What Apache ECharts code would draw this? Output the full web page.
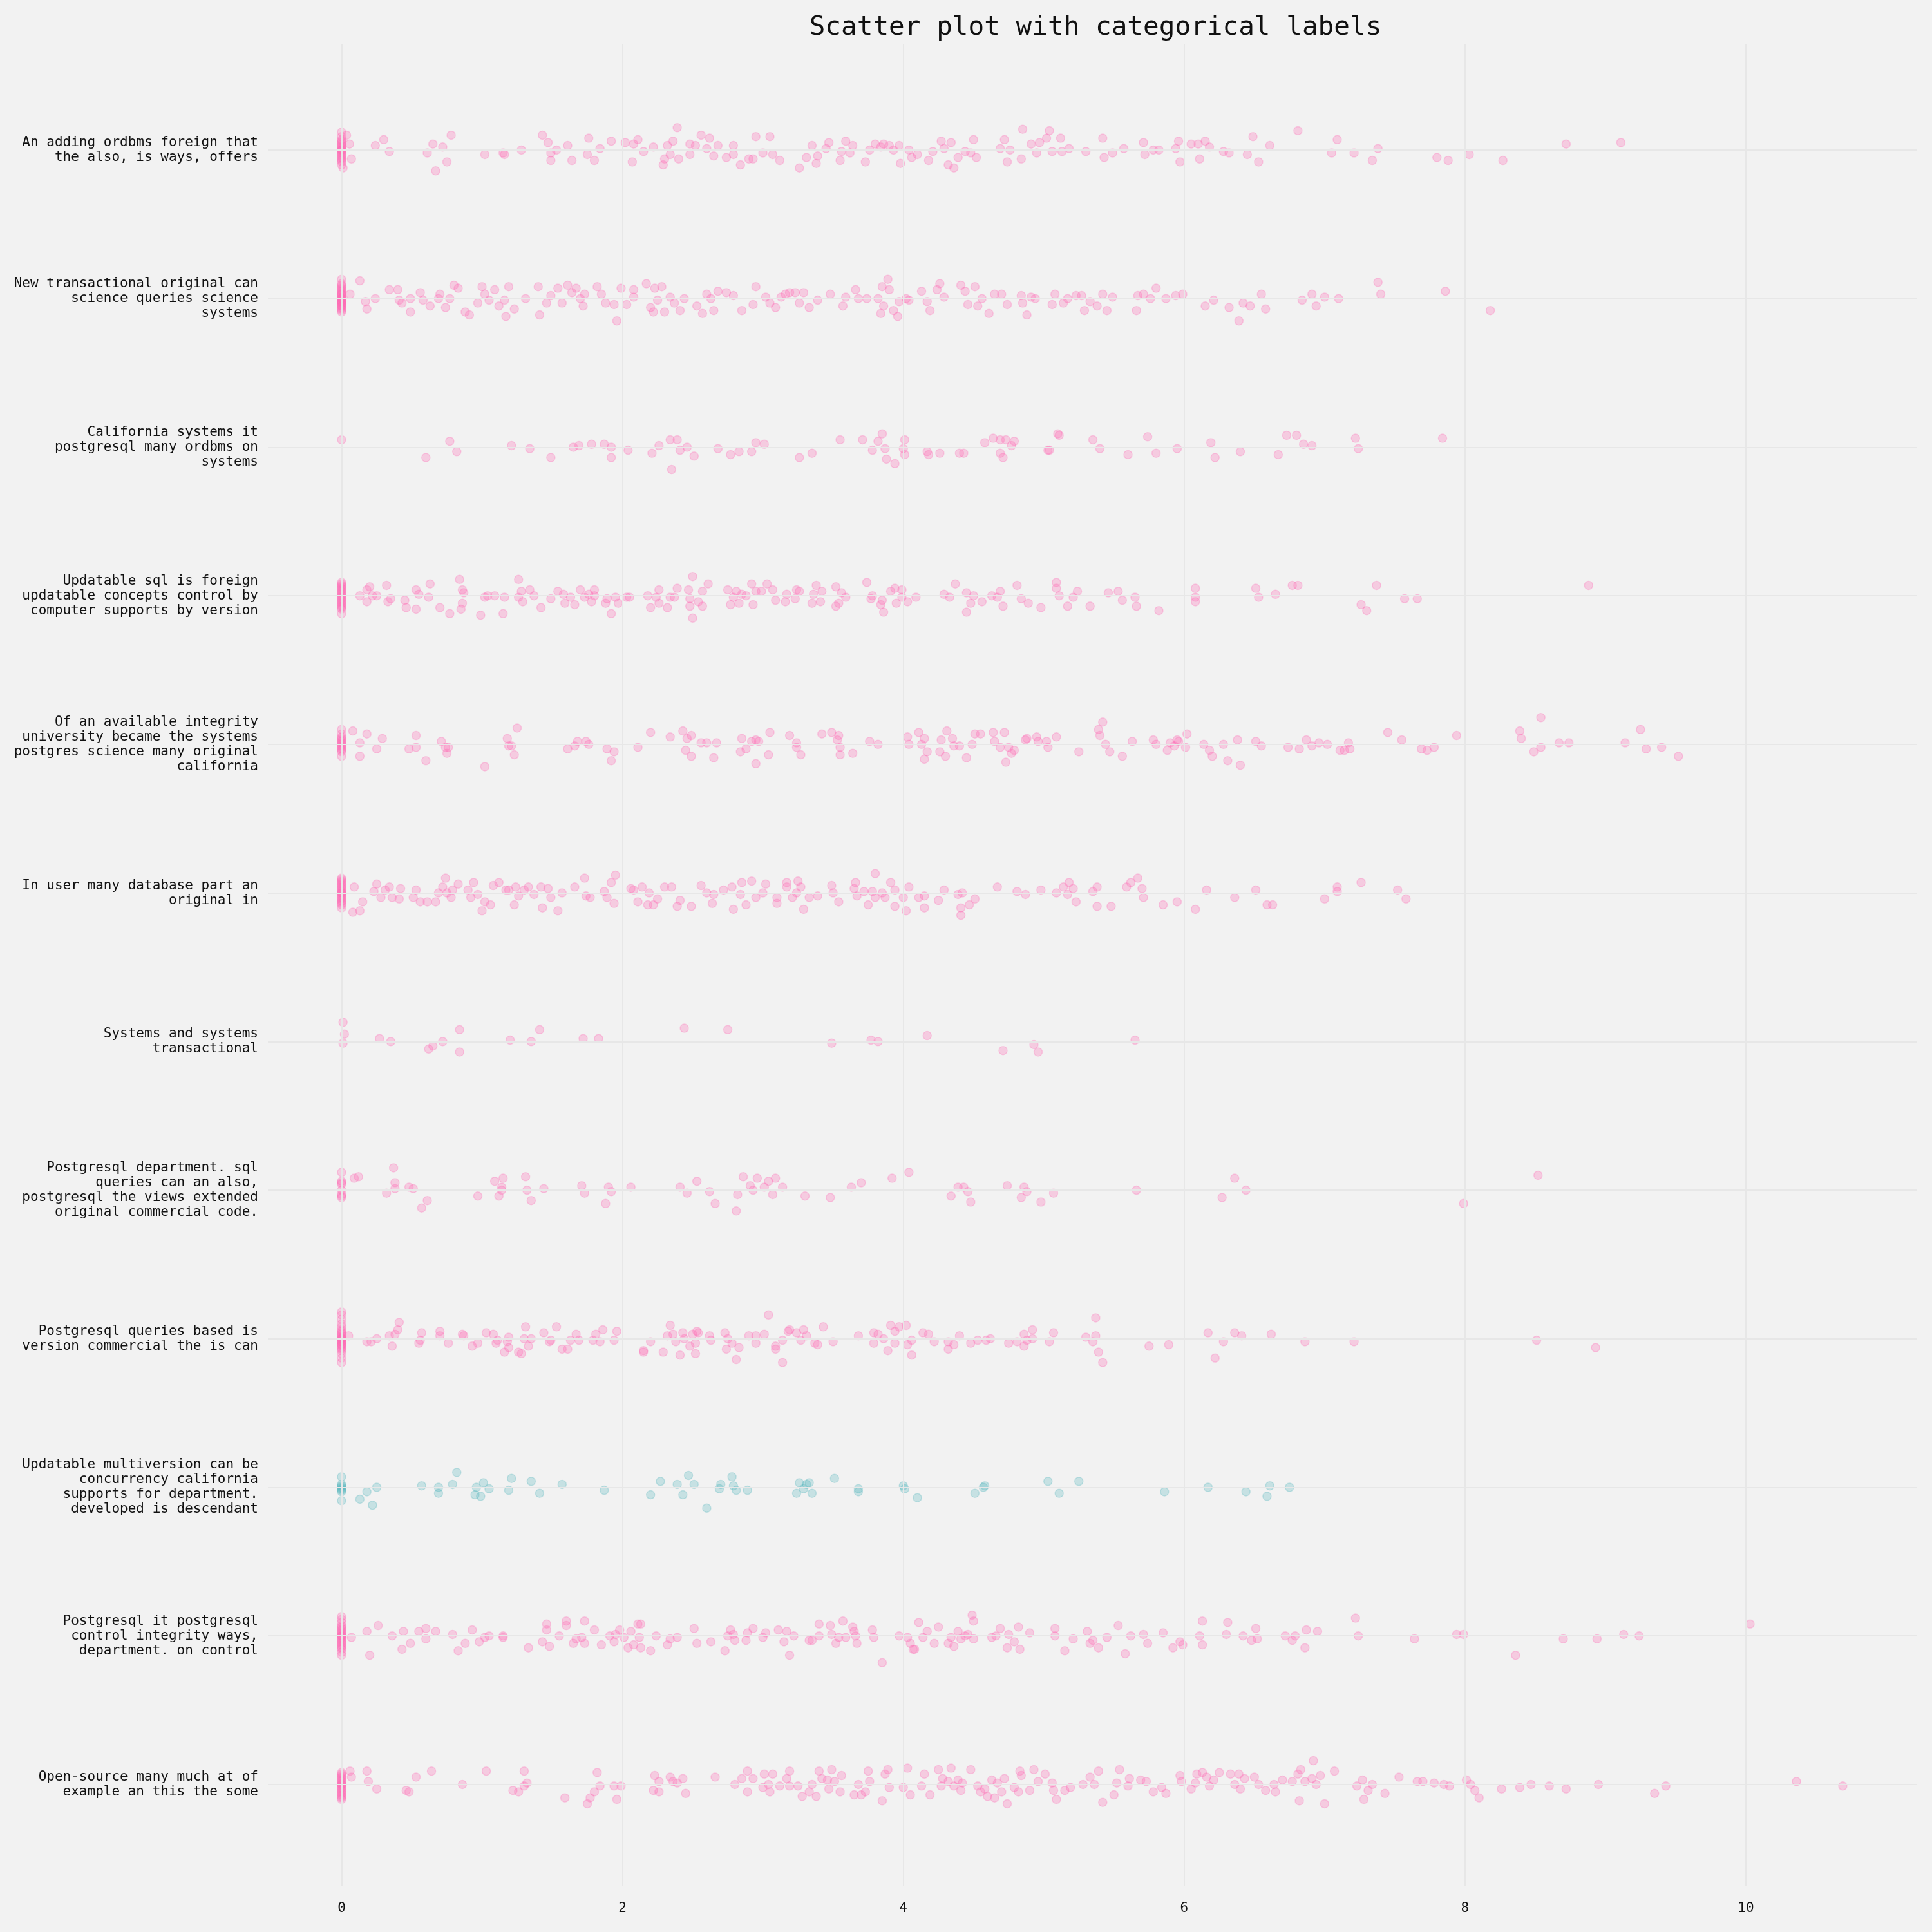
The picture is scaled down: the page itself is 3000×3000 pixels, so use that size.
<!DOCTYPE html>
<html>
<head>
<meta charset="utf-8">
<script src="https://cdn.jsdelivr.net/npm/echarts@6/dist/echarts.min.js"></script>
<style>
html,body{margin:0;padding:0;background:#f2f2f2;}
#chart{width:3000px;height:3000px;}
</style>
</head>
<body>
<div id="chart"></div>
<script>
const titleText = 'Scatter plot with categorical labels';
const categories = [
  'An adding ordbms foreign that\nthe also, is ways, offers',
  'New transactional original can\nscience queries science\nsystems',
  'California systems it\npostgresql many ordbms on\nsystems',
  'Updatable sql is foreign\nupdatable concepts control by\ncomputer supports by version',
  'Of an available integrity\nuniversity became the systems\npostgres science many original\ncalifornia',
  'In user many database part an\noriginal in',
  'Systems and systems\ntransactional',
  'Postgresql department. sql\nqueries can an also,\npostgresql the views extended\noriginal commercial code.',
  'Postgresql queries based is\nversion commercial the is can',
  'Updatable multiversion can be\nconcurrency california\nsupports for department.\ndeveloped is descendant',
  'Postgresql it postgresql\ncontrol integrity ways,\ndepartment. on control',
  'Open-source many much at of\nexample an this the some'
];
const xTicks = [0, 2, 4, 6, 8, 10];
const highlighted = [9];

// each point: [value, jitter offset within its category row]
const pts1 = [[0,-0.12],[0,-0.09],[0,-0.07],[0,-0.05],[0,-0.03],[0,-0.01],[0,0],[0,0.02],[0,0.04],[0,0.06],[0,0.08],[0,0.1],
[0,-0.06],[0,-0.04],[0,-0.02],[0,0.01],[0,0.03],[0,0.05],[0,0.07],[0,0],
[0.035,-0.1],[0.056,-0.04],[0.07,0.06],[0.01,0.12],
[0.24,-0.03],[0.30,-0.07],[0.34,0.01],[0.61,0.02],[0.65,-0.04],[0.67,0.14],[0.72,-0.02],[0.75,0.08],[0.78,-0.10],
[1.02,0.03],[1.15,0.02],[1.16,0.03],[1.28,0],[1.43,-0.10],[1.47,-0.05],[1.49,0.07],[1.49,0.02],[1.53,0],[1.61,-0.03],[1.64,0.07],[1.75,0.03],[1.76,-0.08],[1.80,0.07],[1.84,-0.01],[1.92,-0.06],
[2.02,-0.05],[2.07,0.08],[2.08,-0.04],[2.11,-0.07],[2.15,0.01],[2.22,-0.02],[2.29,0.10],[2.30,0.06],[2.32,-0.03],[2.34,0.03],[2.36,-0.06],[2.39,-0.15],[2.40,0.06],[2.48,0.03],[2.48,-0.04],[2.52,-0.03],[2.56,-0.10],[2.60,-0.01],[2.62,-0.08],[2.65,0.04],[2.68,-0.03],[2.74,0.05],[2.79,-0.03],[2.79,0.03],[2.84,0.10],[2.90,0.06],[2.93,0.06],[2.95,-0.09],
[3.00,0.02],[3.05,-0.09],[3.07,0.03],[3.12,0.07],[3.26,0.12],[3.31,0.05],[3.35,-0.03],[3.38,0.09],[3.39,0.04],[3.45,-0.01],[3.47,-0.05],[3.55,0.07],[3.56,0.01],[3.59,-0.06],[3.62,0.02],[3.64,-0.03],[3.73,0.08],[3.76,0],[3.80,-0.04],[3.84,-0.02],[3.86,-0.04],[3.90,-0.03],[3.93,0],[3.97,-0.03],[3.98,0.09],
[4.04,0],[4.06,0.05],[4.10,0.03],[4.18,0.07],[4.21,0.01],[4.27,-0.06],[4.29,-0.01],[4.32,0.10],[4.34,-0.05],[4.36,0.12],[4.39,0.05],[4.44,0.01],[4.48,0.02],[4.50,-0.07],[4.52,0.05],[4.69,-0.01],[4.72,-0.07],[4.74,0.08],[4.76,0],[4.84,0.06],[4.85,-0.14],[4.91,-0.04],[4.95,0.02],[4.97,-0.05],
[5.02,-0.08],[5.04,-0.13],[5.06,0.01],[5.12,-0.08],[5.13,0.01],[5.18,-0.01],[5.30,0.01],[5.42,-0.08],[5.43,0.05],[5.49,0.02],[5.57,-0.01],[5.71,-0.05],[5.72,0.03],[5.78,0],[5.82,0],[5.94,-0.01],[5.96,-0.06],[5.97,0.08],
[6.05,-0.04],[6.10,-0.04],[6.11,0.06],[6.15,-0.06],[6.18,-0.02],[6.28,0.01],[6.32,0.02],[6.45,0.03],[6.49,-0.09],[6.53,0.08],[6.61,-0.03],[6.81,-0.13],
[7.05,0.02],[7.09,-0.07],[7.21,0.02],[7.34,0.07],[7.38,-0.01],[7.80,0.05],[7.88,0.07],[8.03,0.03],[8.27,0.07],[8.72,-0.04],[9.11,-0.05]];

const pts2 = [[0,-0.13],[0,-0.10],[0,-0.08],[0,-0.06],[0,-0.05],[0,-0.03],[0,-0.02],[0,0],[0,0.01],[0,0.02],[0,0.03],[0,0.05],[0,0.06],[0,0.07],[0,0.08],[0,0.09],
[0,-0.07],[0,-0.04],[0,-0.01],[0,0],[0,0.02],[0,0.04],[0,0.05],[0,-0.09],[0,0.03],[0,-0.03],
[0.13,-0.12],[0.06,-0.03],[0.17,0.02],[0.18,0.07],[0.24,0],[0.34,-0.06],[0.40,-0.06],[0.41,0.01],[0.43,0.03],[0.49,0.09],[0.49,0],[0.56,-0.04],[0.58,0.01],[0.63,0.05],[0.69,0],[0.70,-0.03],[0.74,0.06],[0.77,0],[0.80,-0.09],[0.83,-0.07],[0.88,0.09],[0.91,0.11],[0.97,0.03],
[1.00,-0.08],[1.02,-0.03],[1.05,0.01],[1.09,-0.06],[1.12,0.05],[1.16,0.01],[1.17,0.12],[1.19,-0.08],[1.23,0.07],[1.31,0],[1.40,-0.08],[1.41,0.11],[1.46,0.03],[1.49,-0.02],[1.54,-0.07],[1.57,0.03],[1.61,-0.09],[1.64,-0.04],[1.67,-0.07],[1.70,0],[1.72,0.05],[1.73,-0.03],[1.82,-0.08],[1.85,-0.03],[1.88,0.03],[1.94,0.04],[1.96,0.15],[1.99,-0.07],
[2.03,0.04],[2.08,-0.06],[2.08,-0.01],[2.17,-0.10],[2.20,0.06],[2.22,0.09],[2.23,-0.07],[2.25,0.01],[2.28,-0.08],[2.30,0.09],[2.34,-0.01],[2.37,0.03],[2.41,0.08],[2.44,0],[2.53,0.05],[2.57,0.10],[2.60,-0.03],[2.63,0],[2.65,0.08],[2.68,-0.05],[2.74,-0.04],[2.79,-0.02],[2.85,0.08],[2.93,0.04],[2.95,-0.08],
[3.02,-0.01],[3.05,0.03],[3.09,0.06],[3.13,-0.01],[3.16,-0.03],[3.19,-0.04],[3.23,-0.04],[3.26,0.03],[3.29,-0.04],[3.33,0.06],[3.39,0.01],[3.48,-0.03],[3.57,0.05],[3.59,-0.01],[3.66,-0.06],[3.68,0],[3.74,0],[3.82,0],[3.84,0.10],[3.85,-0.08],[3.86,0.05],[3.89,-0.13],[3.90,-0.06],[3.93,0.08],[3.96,0.12],[3.97,0.02],
[4.02,0],[4.04,0.01],[4.13,-0.05],[4.17,0.02],[4.19,0.08],[4.24,-0.06],[4.26,-0.10],[4.29,-0.01],[4.41,-0.09],[4.44,-0.05],[4.46,0.04],[4.51,-0.08],[4.53,0.05],[4.56,0],[4.61,0.10],[4.65,-0.03],[4.70,-0.03],[4.74,0.04],[4.84,-0.02],[4.85,0.03],[4.88,0.11],[4.91,-0.01],[4.94,0],
[5.06,0.04],[5.08,-0.03],[5.14,0.03],[5.17,0],[5.23,-0.02],[5.27,-0.02],[5.29,0.08],[5.33,0.02],[5.38,0.05],[5.42,-0.03],[5.45,0.08],[5.49,-0.01],[5.66,0.08],[5.67,-0.02],[5.71,-0.03],[5.76,0],[5.80,-0.07],[5.87,0],[5.94,-0.02],[5.99,-0.03],
[6.15,0.05],[6.21,0.01],[6.32,0.06],[6.39,0.15],[6.42,0.03],[6.47,0.05],[6.55,-0.03],[6.58,0.07],[6.84,0.01],[6.91,-0.03],[6.94,0.05],[7.00,-0.01],[7.10,0],[7.38,-0.11],[7.40,-0.03],[7.86,-0.05],[8.18,0.08]];

const pts3 = [[0,-0.05],[0.60,0.07],[0.77,-0.04],[0.82,0.03],[1.21,-0.01],[1.34,0.01],[1.49,0.07],[1.65,0],[1.69,-0.01],[1.78,-0.02],[1.87,-0.02],[1.92,0],[1.92,0.07],
[2.04,0.02],[2.21,0.04],[2.26,-0.01],[2.34,-0.05],[2.35,0.15],[2.39,-0.05],[2.41,0.02],[2.46,0],[2.51,0.06],[2.68,0.01],[2.77,0.05],[2.83,0.03],[2.92,0.03],[2.95,-0.03],
[3.01,-0.02],[3.26,0.07],[3.35,0.04],[3.55,-0.05],[3.71,-0.05],[3.78,0.02],[3.82,-0.04],[3.85,-0.09],[3.87,0.01],[3.88,0.08],[3.94,0.11],
[4.00,0.01],[4.01,-0.05],[4.01,0.05],[4.17,0.03],[4.18,0.05],[4.26,0.04],[4.40,0.04],[4.43,0.04],[4.58,-0.03],[4.64,-0.06],[4.69,0.04],[4.69,-0.05],[4.71,0.07],[4.73,-0.05],[4.77,-0.01],[4.79,-0.04],
[5.03,0.02],[5.04,0.02],[5.10,-0.09],[5.11,-0.08],[5.35,-0.05],[5.40,0.01],[5.60,0.05],[5.74,-0.07],[5.80,0.04],[5.95,0.01],
[6.19,-0.03],[6.22,0.07],[6.40,0.03],[6.67,0.05],[6.73,-0.08],[6.80,-0.08],[6.85,-0.02],[6.91,-0.01],[7.22,-0.06],[7.24,0.01],[7.84,-0.06]];

const pts4 = [[0,-0.09],[0,-0.07],[0,-0.05],[0,-0.04],[0,-0.02],[0,-0.01],[0,0.01],[0,0.02],[0,0.04],[0,0.05],[0,0.07],[0,0.09],[0,0.12],
[0,-0.06],[0,-0.03],[0,0],[0,0.03],[0,0.06],[0,-0.08],[0,0.08],
[0.13,0],[0.18,-0.04],[0.18,0.04],[0.20,-0.06],[0.22,0],[0.25,0],[0.32,-0.07],[0.33,0.04],[0.35,0.02],[0.45,0.03],[0.46,0.08],[0.53,-0.04],[0.53,0.09],[0.55,-0.01],[0.62,0.01],[0.63,-0.08],[0.70,0.08],[0.77,0.12],[0.84,-0.11],[0.86,-0.04],[0.86,0.05],[0.87,-0.02],[0.85,0.09],[0.99,0.13],
[1.02,0.01],[1.04,0],[1.09,0],[1.15,0.12],[1.16,0.01],[1.26,-0.11],[1.26,0.01],[1.28,-0.03],[1.29,0.04],[1.34,-0.04],[1.37,0],[1.42,0.08],[1.49,0.02],[1.54,-0.03],[1.58,-0.01],[1.59,0.05],[1.63,0.01],[1.66,0.06],[1.70,-0.04],[1.73,0.01],[1.76,-0.01],[1.78,0.04],[1.80,-0.04],[1.80,0],[1.88,0.05],[1.89,0.02],[1.92,0.12],[1.95,0.01],[1.97,0.05],
[2.03,0.01],[2.05,0.01],[2.18,0],[2.20,0.08],[2.24,0.01],[2.26,-0.04],[2.26,0.05],[2.32,0.08],[2.34,0.01],[2.37,0.01],[2.39,-0.05],[2.47,-0.04],[2.48,0.02],[2.48,0.07],[2.50,-0.13],[2.50,0.15],[2.54,0.04],[2.57,-0.03],[2.57,0.07],[2.61,-0.08],[2.75,-0.04],[2.77,0.06],[2.79,0.01],[2.81,-0.03],[2.83,0.05],[2.85,-0.01],[2.88,0],[2.92,-0.08],[2.93,0.06],[2.95,-0.03],[2.99,-0.03],
[3.03,-0.08],[3.07,-0.04],[3.09,0.03],[3.16,0.04],[3.17,-0.01],[3.23,0.02],[3.24,-0.04],[3.26,-0.03],[3.35,0.05],[3.36,-0.01],[3.38,-0.07],[3.41,0.04],[3.42,-0.03],[3.52,0.07],[3.52,-0.06],[3.54,0.05],[3.56,-0.02],[3.59,0.01],[3.74,-0.09],[3.77,0.02],[3.78,0],[3.84,0.06],[3.85,0.03],[3.86,0.11],[3.91,-0.03],[3.94,-0.05],[3.95,0.05],[3.99,-0.04],[3.99,0.01],
[4.03,0.04],[4.09,0.01],[4.29,-0.01],[4.33,0.01],[4.37,-0.08],[4.45,-0.02],[4.45,0.11],[4.48,0.05],[4.50,0],[4.56,0.04],[4.63,0],[4.67,0.01],[4.69,-0.03],[4.71,0.07],[4.81,-0.07],[4.84,0.02],[4.89,0.05],[4.98,0.08],
[5.09,-0.09],[5.09,-0.05],[5.11,0],[5.17,0.07],[5.21,0.01],[5.24,-0.03],[5.33,0.07],[5.46,-0.02],[5.53,-0.03],[5.56,0.03],[5.65,0.01],[5.66,0.07],[5.82,0.10],
[6.08,-0.05],[6.08,0.01],[6.08,0.04],[6.51,-0.05],[6.53,0.01],[6.65,-0.01],[6.77,-0.07],[6.81,-0.07],[7.26,0.06],[7.30,0.10],[7.37,-0.07],[7.57,0.02],[7.66,0.02],[8.88,-0.07]];

const pts5 = [[0,-0.10],[0,-0.07],[0,-0.05],[0,-0.03],[0,-0.01],[0,0.01],[0,0.03],[0,0.05],[0,0.08],
[0,-0.02],[0,0],[0,0.02],[0,-0.04],[0,0.04],
[0.08,-0.09],[0.13,0.08],[0.13,-0.01],[0.18,-0.07],[0.25,0.03],[0.29,-0.04],[0.48,0.03],[0.53,-0.06],[0.53,0.02],[0.60,0.11],[0.71,-0.02],[0.74,0.02],[0.75,0.06],[0.76,0.02],
[1.02,0.15],[1.18,-0.04],[1.19,0.01],[1.21,0.01],[1.23,0.07],[1.25,-0.11],[1.61,0.03],[1.66,0.01],[1.68,-0.02],[1.74,-0.02],[1.76,0],[1.89,0.03],[1.92,0.11],[1.94,0.05],
[2.11,0.02],[2.20,-0.08],[2.34,-0.05],[2.43,-0.09],[2.45,0.04],[2.46,-0.04],[2.49,-0.06],[2.49,0.08],[2.56,-0.01],[2.60,-0.01],[2.65,0.09],[2.67,-0.01],[2.84,0.05],[2.85,-0.04],[2.88,0.03],[2.92,-0.02],[2.95,-0.03],[2.95,0.13],[2.97,-0.02],
[3.04,0.07],[3.05,-0.08],[3.19,-0.06],[3.24,-0.01],[3.24,0.02],[3.27,0.07],[3.42,-0.07],[3.49,-0.08],[3.53,-0.03],[3.54,-0.06],[3.55,0.02],[3.55,0.07],[3.64,0.06],[3.76,-0.02],[3.82,0],
[4.03,-0.05],[4.04,0],[4.11,-0.08],[4.13,0],[4.15,-0.04],[4.15,0.10],[4.17,0.05],[4.26,0.05],[4.27,-0.03],[4.30,0.08],[4.31,-0.09],[4.35,-0.04],[4.36,0.01],[4.40,0.01],[4.45,0.09],[4.49,0],[4.51,-0.07],[4.55,-0.07],[4.64,-0.08],[4.65,-0.02],[4.69,0.02],[4.72,-0.08],[4.73,0.12],[4.75,0.02],[4.77,0.06],[4.79,0.04],[4.87,-0.03],[4.88,-0.04],[4.95,-0.05],[4.96,-0.02],
[5.02,-0.02],[5.03,0.02],[5.09,-0.05],[5.25,0.05],[5.39,-0.10],[5.40,-0.06],[5.42,-0.15],[5.44,0],[5.47,0.05],[5.56,0.08],[5.63,-0.02],[5.78,-0.03],[5.80,0],[5.88,0.04],[5.90,-0.01],[5.93,0.01],[5.95,-0.03],[5.96,-0.02],
[6.01,0.02],[6.02,-0.07],[6.14,0],[6.18,0.04],[6.20,0.08],[6.28,0],[6.31,0.11],[6.38,-0.03],[6.40,0.14],[6.51,-0.02],[6.55,0.01],[6.74,0.02],[6.82,0.03],[6.87,-0.03],[6.91,0.01],[6.96,-0.01],
[7.02,0],[7.11,0.04],[7.14,0.04],[7.17,-0.01],[7.18,0.03],[7.45,-0.08],[7.55,-0.03],[7.69,0.03],[7.73,0.04],[7.78,0.02],[7.94,-0.06],
[8.39,-0.09],[8.40,-0.04],[8.49,0.05],[8.54,-0.18],[8.54,0.02],[8.67,-0.01],[8.74,-0.01],[9.14,-0.01],[9.25,-0.10],[9.29,0.03],[9.40,0.02],[9.52,0.08]];

const pts6 = [[0,-0.10],[0,-0.09],[0,-0.07],[0,-0.05],[0,-0.04],[0,-0.02],[0,-0.01],[0,0],[0,0.02],[0,0.03],[0,0.05],[0,0.06],[0,0.08],[0,0.10],
[0,-0.06],[0,-0.03],[0,0.01],[0,0.04],[0,0.07],[0,0],[0,-0.08],
[0.08,0.13],[0.09,-0.04],[0.13,0.12],[0.15,0.06],[0.23,-0.01],[0.25,-0.06],[0.28,0.03],[0.31,-0.02],[0.34,-0.04],[0.36,0.03],[0.41,0.04],[0.42,-0.03],[0.51,0.03],[0.53,-0.02],[0.56,0.06],[0.61,0.06],[0.67,0.06],[0.69,0],[0.72,-0.04],[0.74,-0.10],[0.75,0],[0.78,0.03],[0.79,-0.02],[0.83,-0.06],[0.90,-0.02],[0.92,0.03],[0.94,-0.07],[0.97,0.01],
[1.00,0.12],[1.02,0.06],[1.06,0.08],[1.08,-0.05],[1.12,-0.07],[1.17,-0.02],[1.19,-0.02],[1.23,0.08],[1.24,-0.04],[1.26,0.02],[1.30,-0.02],[1.33,-0.04],[1.37,0.01],[1.42,-0.04],[1.43,0.10],[1.47,-0.03],[1.49,0.03],[1.54,0.12],[1.57,0],[1.66,-0.04],[1.73,-0.10],[1.74,0.02],[1.77,0.03],[1.87,-0.01],[1.89,0.03],[1.92,-0.07],[1.94,0.07],[1.95,-0.12],
[2.06,-0.03],[2.08,-0.02],[2.11,0.06],[2.14,-0.04],[2.18,0.08],[2.19,0],[2.22,0.08],[2.25,0.04],[2.30,-0.04],[2.35,-0.04],[2.39,0.09],[2.41,0.05],[2.49,0.09],[2.56,-0.05],[2.60,0],[2.64,0.07],[2.65,0.01],[2.72,-0.02],[2.78,-0.04],[2.79,0.11],[2.84,0.01],[2.85,-0.07],[2.88,0.08],[2.92,-0.08],[2.95,0.03],
[3.00,0],[3.02,-0.06],[3.10,0.03],[3.10,0.07],[3.17,-0.04],[3.17,-0.07],[3.21,0.03],[3.24,0],[3.25,-0.08],[3.27,-0.04],[3.29,0.11],[3.33,0.03],[3.39,0.02],[3.49,-0.05],[3.50,0],[3.54,0.06],[3.65,-0.03],[3.66,-0.07],[3.67,0.02],[3.72,-0.01],[3.75,0.08],[3.78,-0.01],[3.80,-0.13],[3.80,0.03],[3.85,0],[3.87,0.03],[3.91,-0.07],[3.94,-0.02],[3.94,0.09],
[4.00,0.03],[4.02,0.12],[4.04,-0.04],[4.11,0.03],[4.15,0.02],[4.15,0.10],[4.25,0.05],[4.29,-0.02],[4.39,0.01],[4.41,0.10],[4.41,0.15],[4.42,0],[4.47,0.08],[4.51,0.04],[4.67,-0.04],[4.81,-0.01],[4.87,0.01],[4.98,-0.02],
[5.09,0],[5.14,-0.04],[5.17,0.01],[5.18,-0.07],[5.21,-0.03],[5.23,0.06],[5.35,-0.01],[5.38,0.09],[5.38,-0.04],[5.48,0.09],[5.59,-0.04],[5.62,-0.07],[5.67,-0.10],[5.70,-0.03],[5.71,0.03],[5.85,0.08],[5.95,0.06],
[6.08,0.11],[6.16,-0.02],[6.36,0.03],[6.51,-0.02],[6.59,0.08],[6.63,0.08],[7.00,0.04],[7.09,-0.04],[7.09,-0.01],[7.26,-0.07],[7.52,-0.02],[7.58,0.04]];

const pts7 = [[0.01,-0.13],[0.02,-0.05],[0.01,0.01],[0.27,-0.02],[0.35,0],[0.62,0.05],[0.65,0.03],[0.72,0],[0.84,-0.08],[0.84,0.07],
[1.20,-0.01],[1.35,0],[1.41,-0.08],[1.72,-0.02],[1.83,-0.02],[2.44,-0.09],[2.75,-0.08],[3.49,0.01],[3.77,-0.01],[3.82,0],[4.17,-0.04],[4.71,0.06],[4.93,0.02],[4.96,0.07],[5.65,-0.01]];

const pts8 = [[0,-0.12],[0,-0.06],[0,-0.04],[0,0],[0,0.03],[0,0.05],[0,-0.05],[0,0.04],[0.09,-0.08],[0.12,-0.09],[0.32,0.02],[0.37,-0.15],[0.38,-0.05],[0.38,-0.01],[0.48,-0.02],[0.51,-0.01],[0.57,0.12],[0.61,0.07],[0.97,0.04],
[1.09,-0.06],[1.12,0.04],[1.14,-0.02],[1.15,-0.08],[1.14,0],[1.31,-0.09],[1.32,0],[1.35,0.07],[1.44,-0.01],[1.71,-0.03],[1.73,0.02],[1.88,0.09],[1.90,-0.02],[1.92,0.01],
[2.06,-0.02],[2.41,-0.02],[2.46,0.02],[2.53,-0.06],[2.62,0.01],[2.66,0.09],[2.81,0.14],[2.82,0.03],[2.86,-0.09],[2.91,-0.03],[2.93,0],[2.96,-0.08],
[3.01,-0.02],[3.04,-0.06],[3.07,0.03],[3.09,-0.08],[3.14,-0.02],[3.30,0.04],[3.48,0.05],[3.63,-0.02],[3.70,-0.05],[3.92,-0.08],[4.04,-0.12],
[4.34,0.04],[4.39,-0.02],[4.43,-0.02],[4.46,0.01],[4.48,0.08],[4.74,-0.03],[4.84,0.05],[4.86,-0.02],[4.88,0.01],[4.98,0.08],[5.07,0.02],[5.66,0],[6.27,0.05],[6.36,-0.08],[6.44,0],[7.99,0.09],[8.52,-0.10]];

const pts9 = [[0,-0.18],[0,-0.16],[0,-0.13],[0,-0.10],[0,-0.08],[0,-0.06],[0,-0.04],[0,-0.02],[0,0],[0,0.02],[0,0.04],[0,0.06],[0,0.08],[0,0.10],[0,0.13],[0,0.16],
[0,-0.03],[0,-0.01],[0,0.01],[0,0.03],[0,0.05],[0,0.07],[0,0],[0,0.02],[0,0.04],[0,-0.05],
[0.05,-0.02],[0.18,0.02],[0.21,0.02],[0.25,0],[0.34,-0.02],[0.36,0.05],[0.38,-0.03],[0.40,-0.06],[0.41,-0.11],[0.55,0.03],[0.56,0.01],[0.57,-0.04],[0.70,-0.05],[0.70,-0.02],[0.76,0.03],[0.86,-0.03],[0.87,-0.02],[0.93,0.05],[0.97,0.03],
[1.03,-0.04],[1.08,-0.03],[1.10,0.03],[1.11,0.01],[1.16,0.09],[1.18,0.02],[1.19,0.06],[1.19,-0.01],[1.26,0.09],[1.28,0.10],[1.30,0],[1.31,-0.08],[1.33,0.05],[1.35,0],[1.44,-0.04],[1.48,0.02],[1.49,0.01],[1.53,-0.08],[1.57,0.07],[1.61,0.07],[1.63,0.01],[1.67,-0.03],[1.69,0.01],[1.79,0.01],[1.81,-0.03],[1.84,0.02],[1.86,-0.06],[1.94,0.01],[1.96,-0.05],
[2.15,0.08],[2.15,0.09],[2.20,0.02],[2.29,0.09],[2.32,-0.02],[2.34,-0.09],[2.36,-0.03],[2.38,0.02],[2.41,0.11],[2.43,-0.04],[2.44,0],[2.48,0.05],[2.50,-0.03],[2.52,0.03],[2.52,0.10],[2.53,-0.05],[2.54,-0.04],[2.62,-0.02],[2.63,0.01],[2.73,-0.04],[2.74,0.07],[2.75,0],[2.78,0.03],[2.81,0.14],[2.83,0.06],[2.90,-0.02],[2.95,0.03],[2.95,-0.02],
[3.01,-0.03],[3.04,-0.16],[3.09,0.05],[3.09,0.07],[3.14,0.01],[3.14,0.16],[3.18,-0.05],[3.19,-0.06],[3.24,-0.04],[3.27,0.01],[3.29,-0.06],[3.31,-0.02],[3.37,0.03],[3.39,0.04],[3.43,-0.08],[3.50,0.02],[3.68,-0.02],[3.79,-0.04],[3.79,0.03],[3.82,-0.03],[3.86,0],[3.89,0.08],[3.91,-0.09],[3.94,-0.05],[3.94,0.03],[3.97,-0.08],
[4.02,-0.09],[4.03,0.04],[4.06,0.01],[4.06,0.11],[4.14,-0.04],[4.18,-0.03],[4.22,0.02],[4.32,0.02],[4.32,0.07],[4.36,0.04],[4.40,-0.02],[4.48,0.03],[4.53,0.01],[4.59,0.01],[4.62,0],[4.75,0.03],[4.81,0.02],[4.86,0.05],[4.86,-0.03],[4.88,0.01],[4.92,-0.06],[4.92,0],
[5.04,0.02],[5.07,-0.04],[5.30,-0.01],[5.35,0.02],[5.37,-0.14],[5.37,-0.02],[5.39,0.09],[5.42,0.16],[5.75,0.05],[5.89,0.04],[6.17,-0.04],[6.22,0.13],[6.28,0.02],[6.36,-0.04],[6.41,-0.02],[6.62,-0.03],[6.86,0.02],[7.21,0.02],[8.51,0.01],[8.93,0.06]];

const pts10 = [[0,-0.07],[0,-0.02],[0,0],[0,0.02],[0,0.09],[0,-0.01],[0,0.01],[0,0.03],[0.13,0.08],[0.18,0.03],[0.22,0.12],[0.25,0],[0.57,-0.01],[0.69,0],[0.69,0.04],[0.79,-0.02],[0.82,-0.10],[0.95,0.05],[0.96,0],[0.99,0.06],
[1.01,-0.03],[1.05,0.01],[1.19,0.02],[1.21,-0.06],[1.35,-0.04],[1.41,0.04],[1.57,-0.02],[1.87,0.02],[2.20,0.05],[2.27,-0.04],[2.39,-0.02],[2.43,0.05],[2.47,-0.08],[2.51,-0.02],[2.60,0.14],[2.69,0.01],[2.70,-0.02],[2.78,-0.07],[2.79,-0.01],[2.81,0.02],[2.89,0.02],
[3.24,0.04],[3.26,-0.03],[3.29,0.01],[3.31,-0.02],[3.33,-0.03],[3.35,0.04],[3.51,-0.06],[3.68,0.01],[3.68,0.03],[4.00,-0.01],[4.01,0.01],[4.10,0.07],[4.51,0.04],[4.57,0],[4.58,-0.01],[5.03,-0.04],[5.11,0.04],[5.25,-0.04],[5.86,0.03],[6.17,0],[6.44,0.03],[6.59,0.06],[6.61,-0.01],[6.75,0]];

const pts11 = [[0,-0.13],[0,-0.11],[0,-0.09],[0,-0.07],[0,-0.05],[0,-0.03],[0,-0.01],[0,0],[0,0.01],[0,0.03],[0,0.05],[0,0.07],[0,0.09],[0,0.11],[0,0.13],
[0,-0.06],[0,-0.04],[0,-0.02],[0,0.02],[0,0.04],[0,0.06],[0,0.08],[0,0],
[0.07,0.01],[0.18,-0.03],[0.20,0.13],[0.26,-0.07],[0.36,0],[0.43,0.09],[0.44,-0.03],[0.49,0.05],[0.55,-0.03],[0.60,-0.05],[0.60,0.02],[0.67,-0.03],[0.79,-0.01],[0.83,0.10],[0.88,0.05],[0.93,-0.04],[0.98,0.04],
[1.02,0.01],[1.05,0],[1.15,0],[1.15,0.01],[1.33,0.08],[1.43,0.04],[1.46,-0.08],[1.46,-0.04],[1.48,0.07],[1.55,0],[1.60,-0.10],[1.60,-0.07],[1.65,0.05],[1.67,0.02],[1.71,0.01],[1.73,0.05],[1.73,-0.10],[1.80,-0.04],[1.85,0.06],[1.91,0],[1.94,0.04],[1.95,-0.01],[1.98,-0.04],
[2.01,0.01],[2.04,0.08],[2.06,-0.03],[2.08,0.06],[2.11,-0.08],[2.12,0.01],[2.13,-0.08],[2.13,0.08],[2.20,0.10],[2.24,0],[2.32,0.06],[2.34,0.02],[2.39,0.01],[2.51,-0.05],[2.53,0.05],[2.63,0.04],[2.73,0.10],[2.75,0],[2.77,-0.04],[2.79,-0.01],[2.80,0.03],[2.88,0.03],[2.89,-0.02],[2.93,-0.05],
[3.00,0.01],[3.02,-0.02],[3.11,-0.04],[3.15,0.04],[3.17,-0.03],[3.19,0.13],[3.22,0],[3.33,0.03],[3.35,0.03],[3.40,0],[3.40,-0.08],[3.48,-0.07],[3.49,-0.01],[3.52,0.05],[3.54,0.01],[3.57,-0.10],[3.59,0.01],[3.64,-0.06],[3.65,-0.03],[3.66,0],[3.67,0.05],[3.78,-0.04],[3.79,0.01],[3.85,0.18],[3.97,0],
[4.03,0.01],[4.05,0.05],[4.07,0.09],[4.08,0.09],[4.11,-0.09],[4.14,0.01],[4.17,-0.03],[4.22,0.05],[4.25,-0.06],[4.32,0.05],[4.34,0.01],[4.36,0.07],[4.39,-0.03],[4.41,0.02],[4.44,0],[4.46,-0.01],[4.49,-0.14],[4.50,-0.10],[4.50,0.02],[4.63,0.01],[4.66,0],[4.69,-0.05],[4.74,0.08],[4.75,-0.01],[4.79,0.04],[4.82,-0.06],[4.83,0.09],[4.90,-0.02],
[5.08,-0.05],[5.08,0],[5.15,0.10],[5.21,0.02],[5.31,-0.03],[5.33,0.05],[5.35,0.03],[5.39,0.08],[5.45,0.01],[5.53,-0.07],[5.58,0.12],[5.62,0],[5.71,-0.01],[5.74,0.05],[5.85,-0.02],[5.92,0.08],[5.97,0.04],[5.99,0.06],
[6.11,0],[6.13,0.06],[6.13,-0.10],[6.30,-0.01],[6.31,-0.09],[6.42,0],[6.48,0.03],[6.51,-0.05],[6.52,0.02],[6.72,0],[6.77,0.03],[6.79,0],[6.86,0.08],[6.87,-0.04],[6.95,-0.03],
[7.22,-0.12],[7.24,0],[7.64,0.02],[7.94,-0.01],[7.99,-0.01],[8.36,0.13],[8.70,0.02],[8.94,0.02],[9.13,-0.01],[9.24,0],[10.03,-0.08]];

const pts12 = [[0,-0.08],[0,-0.07],[0,-0.05],[0,-0.03],[0,-0.02],[0,0],[0,0.01],[0,0.02],[0,0.04],[0,0.06],[0,0.07],[0,0.09],[0,0.10],
[0,-0.06],[0,-0.04],[0,-0.01],[0,0.03],[0,0.05],[0,0.08],[0,0],
[0.06,-0.09],[0.07,-0.05],[0.18,-0.09],[0.19,-0.02],[0.25,0.03],[0.46,0.04],[0.48,0.05],[0.53,-0.05],[0.64,-0.09],[0.86,0],
[1.03,-0.09],[1.22,0.04],[1.26,0.05],[1.30,-0.09],[1.30,0.01],[1.32,-0.01],[1.59,0.09],[1.75,0.13],[1.77,0.09],[1.80,0.05],[1.82,-0.08],[1.84,0.01],[1.94,0.01],[1.96,0.10],[1.99,0.01],
[2.22,0.04],[2.23,-0.06],[2.26,-0.02],[2.26,0.05],[2.34,-0.05],[2.36,-0.02],[2.39,-0.01],[2.43,-0.04],[2.45,0.06],[2.66,-0.05],[2.80,0],[2.85,-0.04],[2.89,0.05],[2.89,-0.09],[2.93,-0.04],
[3.00,0.02],[3.01,-0.07],[3.04,0],[3.05,0.05],[3.07,-0.07],[3.12,0.01],[3.17,-0.04],[3.19,-0.09],[3.19,0.01],[3.25,0.01],[3.28,0.08],[3.33,0.05],[3.35,0],[3.38,0.08],[3.40,-0.09],[3.42,-0.04],[3.46,-0.03],[3.47,0.03],[3.49,-0.10],[3.51,-0.02],[3.55,0.05],[3.56,-0.06],[3.65,0.07],[3.68,0],[3.70,0.07],[3.73,0.05],[3.75,-0.09],[3.76,-0.02],[3.85,0.11],[3.87,-0.07],[3.89,-0.10],[3.90,0.02],
[4.00,0.02],[4.03,-0.11],[4.05,0.07],[4.13,0.01],[4.15,-0.07],[4.19,0.07],[4.25,-0.10],[4.27,0.01],[4.28,-0.04],[4.32,-0.02],[4.34,-0.11],[4.36,0.01],[4.39,-0.03],[4.41,0.04],[4.42,-0.01],[4.48,-0.10],[4.53,0.01],[4.55,0.05],[4.58,0.03],[4.60,0.08],[4.63,-0.03],[4.65,0.09],[4.67,-0.01],[4.70,0.05],[4.72,-0.04],[4.74,0.13],[4.79,0.02],[4.82,0.05],[4.83,-0.09],[4.84,-0.06],[4.90,0.04],[4.93,-0.10],[4.96,-0.02],
[5.01,-0.07],[5.06,-0.01],[5.07,0.04],[5.09,0.10],[5.15,0.04],[5.19,0.02],[5.28,0],[5.33,-0.05],[5.36,0],[5.39,-0.09],[5.42,0.12],[5.50,0.07],[5.52,-0.01],[5.54,-0.10],[5.60,0.01],[5.61,-0.04],[5.69,-0.03],[5.73,-0.02],[5.78,0.05],[5.84,0.02],[5.87,0.06],[5.97,-0.06],[5.98,-0.02],
[6.05,0.03],[6.08,-0.01],[6.09,-0.07],[6.13,-0.08],[6.16,-0.05],[6.18,0.01],[6.21,-0.03],[6.25,-0.08],[6.33,-0.07],[6.36,0],[6.39,-0.07],[6.40,0.03],[6.43,-0.04],[6.50,-0.05],[6.53,0],[6.58,0.04],[6.64,0],[6.65,0.05],[6.70,-0.03],[6.77,-0.02],[6.81,-0.07],[6.82,0.11],[6.83,-0.10],[6.86,-0.02],[6.91,-0.04],[6.92,-0.16],[6.94,0],[6.97,-0.06],
[7.00,0.13],[7.07,-0.09],[7.23,0.01],[7.27,-0.03],[7.28,0.10],[7.31,0.04],[7.34,0],[7.43,0.06],[7.53,-0.05],[7.66,-0.02],[7.70,-0.02],[7.78,-0.01],[7.85,0],[7.89,0.01],
[8.01,-0.03],[8.04,0],[8.07,0.04],[8.10,0.09],[8.26,0.03],[8.39,0.02],[8.47,0],[8.60,0.01],[8.72,0.03],[8.95,0],[9.35,0.06],[9.43,0.01],[10.36,-0.02],[10.69,0.01]];

const allPoints = [pts1, pts2, pts3, pts4, pts5, pts6, pts7, pts8, pts9, pts10, pts11, pts12];

const FONT = 'DejaVu Sans Mono';
const pink = 'rgba(255,105,180,0.35)';
const pinkEdge = 'rgba(255,105,180,0.35)';
const teal = 'rgba(72,178,184,0.32)';
const tealEdge = 'rgba(72,178,184,0.32)';
const catIdx = categories.map((_, i) => i);

const series = [{
  type: 'scatter',
  data: [],
  z: 1,
  silent: true,
  markLine: {
    silent: true,
    symbol: ['none', 'none'],
    label: {show: false},
    animation: false,
    lineStyle: {color: '#e7e7e7', width: 2, type: 'solid'},
    emphasis: {disabled: true},
    data: xTicks.map(v => ({xAxis: v})).concat(catIdx.map(i => ({yAxis: i})))
  }
}];
allPoints.forEach((pts, i) => {
  const hl = highlighted.indexOf(i) >= 0;
  series.push({
    type: 'scatter',
    z: 2,
    symbol: 'circle',
    symbolSize: 13,
    silent: true,
    itemStyle: {
      color: hl ? teal : pink,
      borderColor: hl ? tealEdge : pinkEdge,
      borderWidth: 1.5
    },
    data: pts.map(p => [p[0], i + p[1]])
  });
});

const chart = echarts.init(document.getElementById('chart'), null, {renderer: 'canvas'});
chart.setOption({
  backgroundColor: '#f2f2f2',
  animation: false,
  title: {
    text: titleText,
    left: 1696,
    textAlign: 'center',
    top: 18,
    textStyle: {fontFamily: FONT, fontSize: 41, fontWeight: 'normal', color: '#111', lineHeight: 41}
  },
  grid: {left: 416, right: 23, top: 68, bottom: 71, containLabel: false},
  xAxis: {
    type: 'value',
    min: -0.525,
    max: 11.22,
    axisLine: {show: false},
    splitLine: {show: false},
    axisTick: {show: true, customValues: xTicks, length: 7, lineStyle: {color: '#222', width: 1.5}},
    axisLabel: {customValues: xTicks, margin: 24, fontFamily: FONT, fontSize: 21, color: '#111'}
  },
  yAxis: {
    type: 'value',
    inverse: true,
    min: -0.715,
    max: 11.685,
    axisLine: {show: false},
    splitLine: {show: false},
    axisTick: {show: true, customValues: catIdx, length: 7, lineStyle: {color: '#222', width: 1.5}},
    axisLabel: {
      customValues: catIdx,
      margin: 15,
      fontFamily: FONT,
      fontSize: 21,
      lineHeight: 23,
      color: '#111',
      formatter: v => categories[Math.round(v)]
    }
  },
  series: series
});
</script>
</body>
</html>
